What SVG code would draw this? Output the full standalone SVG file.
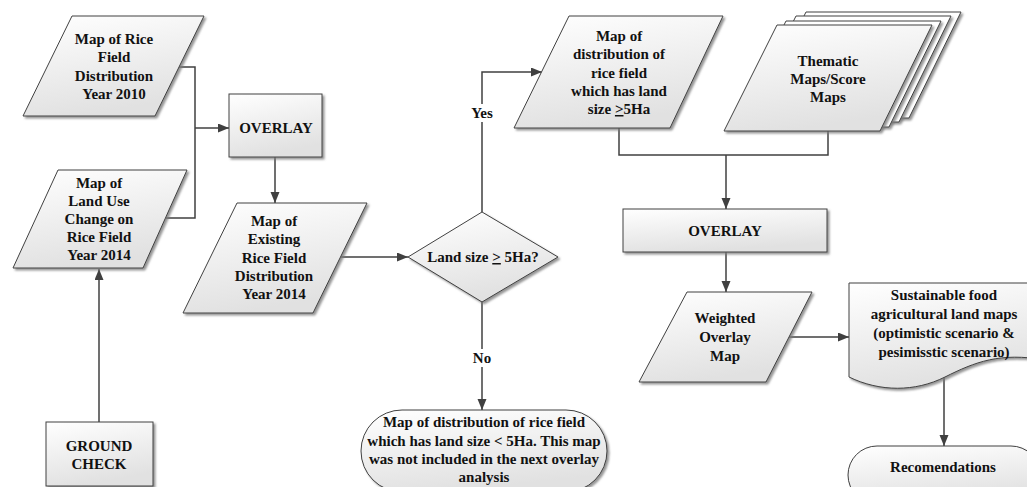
<svg xmlns="http://www.w3.org/2000/svg" width="1027" height="487" viewBox="0 0 1027 487">
<defs>
<linearGradient id="g" x1="0" y1="0" x2="0.3" y2="1">
<stop offset="0" stop-color="#ffffff"/>
<stop offset="1" stop-color="#e1e1e1"/>
</linearGradient>
<filter id="sh" x="-10%" y="-10%" width="130%" height="130%">
<feDropShadow dx="2" dy="2" stdDeviation="0.8" flood-color="#7a7a7a" flood-opacity="0.8"/>
</filter>
<marker id="ah" markerUnits="userSpaceOnUse" markerWidth="12" markerHeight="10" refX="11" refY="4.5" orient="auto">
<path d="M0,0 L11,4.5 L0,9 Z" fill="#404040"/>
</marker>
<style>
.s{fill:url(#g);stroke:#404040;stroke-width:1;filter:url(#sh)}
.w{fill:#ffffff;stroke:#404040;stroke-width:1;filter:url(#sh)}
.c{fill:none;stroke:#404040;stroke-width:1.5}
.a{marker-end:url(#ah)}
text{font-family:"Liberation Serif","Times New Roman",serif;font-weight:bold;font-size:15px;fill:#111;text-anchor:middle}
</style>
</defs>
<rect width="1027" height="487" fill="#ffffff"/>

<g id="connectors">
<path class="c" d="M179,67 H195 V218 H166"/>
<path class="c a" d="M195,128 H229"/>
<path class="c a" d="M275,157 V203"/>
<path class="c a" d="M99,422 V269"/>
<path class="c a" d="M341,257 H408"/>
<path class="c a" d="M482,212 V72 H542"/>
<path class="c a" d="M482,302 V410"/>
<path class="c" d="M619,128 V155 H828 V131"/>
<path class="c a" d="M726,155 V209"/>
<path class="c a" d="M726,252 V292"/>
<path class="c a" d="M788,337 H849"/>
<path class="c a" d="M944,377 V446"/>
<rect x="467" y="104" width="30" height="18" fill="#ffffff"/>
<text x="482" y="118">Yes</text>
<rect x="470" y="349" width="24" height="18" fill="#ffffff"/>
<text x="482" y="363">No</text>
</g>

<g id="n-map2010">
<path class="s" d="M72,16 L204,16 L155,116 L23,116 Z"/>
<text x="114" y="44">Map of Rice</text>
<text x="114" y="62">Field</text>
<text x="114" y="81">Distribution</text>
<text x="114" y="99">Year 2010</text>
</g>

<g id="n-landuse">
<path class="s" d="M58,170 L187,170 L143,268 L13,268 Z"/>
<text x="99" y="188">Map of</text>
<text x="99" y="206">Land Use</text>
<text x="99" y="224">Change on</text>
<text x="99" y="242">Rice Field</text>
<text x="99" y="260">Year 2014</text>
</g>

<g id="n-ground">
<rect class="s" x="46" y="422" width="107" height="64"/>
<text x="99" y="451">GROUND</text>
<text x="99" y="469">CHECK</text>
</g>

<g id="n-overlay1">
<rect class="s" x="229" y="94" width="93" height="63"/>
<text x="276" y="133">OVERLAY</text>
</g>

<g id="n-existing">
<path class="s" d="M237,203 L367,203 L313,313 L183,313 Z"/>
<text x="274" y="226">Map of</text>
<text x="274" y="244">Existing</text>
<text x="274" y="263">Rice Field</text>
<text x="274" y="281">Distribution</text>
<text x="274" y="299">Year 2014</text>
</g>

<g id="n-decision">
<path class="s" d="M408,257 L482,212 L558,257 L482,302 Z"/>
<text x="483" y="262">Land size <tspan text-decoration="underline">&gt;</tspan> 5Ha?</text>
</g>

<g id="n-small">
<rect class="s" x="361" y="410" width="246" height="82" rx="41" ry="41"/>
<text x="484" y="427">Map of distribution of rice field</text>
<text x="484" y="446">which has land size &lt; 5Ha. This map</text>
<text x="484" y="464">was not included in the next overlay</text>
<text x="484" y="482">analysis</text>
</g>

<g id="n-large">
<path class="s" d="M569,16 L723,16 L670,128 L514,128 Z"/>
<text x="619" y="41">Map of</text>
<text x="619" y="59">distribution of</text>
<text x="619" y="78">rice field</text>
<text x="619" y="96">which has land</text>
<text x="619" y="114">size <tspan text-decoration="underline">&gt;</tspan>5Ha</text>
</g>

<g id="n-thematic">
<path class="w" d="M806,12 L961,12 L909,118 L753,118 Z"/>
<path class="w" d="M796,16 L951,16 L899,122 L743,122 Z"/>
<path class="w" d="M786,21 L941,21 L889,127 L733,127 Z"/>
<path class="s" d="M777,25 L932,25 L880,131 L724,131 Z"/>
<text x="828" y="66">Thematic</text>
<text x="828" y="84">Maps/Score</text>
<text x="828" y="102">Maps</text>
</g>

<g id="n-overlay2">
<rect class="s" x="623" y="209" width="204" height="43"/>
<text x="725" y="236">OVERLAY</text>
</g>

<g id="n-weighted">
<path class="s" d="M687,292 L812,292 L766,382 L639,382 Z"/>
<text x="725" y="323">Weighted</text>
<text x="725" y="342">Overlay</text>
<text x="725" y="361">Map</text>
</g>

<g id="n-sustainable">
<path class="s" d="M849,283 H1045 V360 C1000,352 975,362 945,377 C915,392 880,392 849,377 Z"/>
<text x="944" y="300">Sustainable food</text>
<text x="944" y="319">agricultural land maps</text>
<text x="944" y="338">(optimistic scenario &amp;</text>
<text x="944" y="357">pesimisstic scenario)</text>
</g>

<g id="n-recom">
<rect class="s" x="848" y="446" width="192" height="58" rx="29" ry="29"/>
<text x="943" y="472">Recomendations</text>
</g>
</svg>
